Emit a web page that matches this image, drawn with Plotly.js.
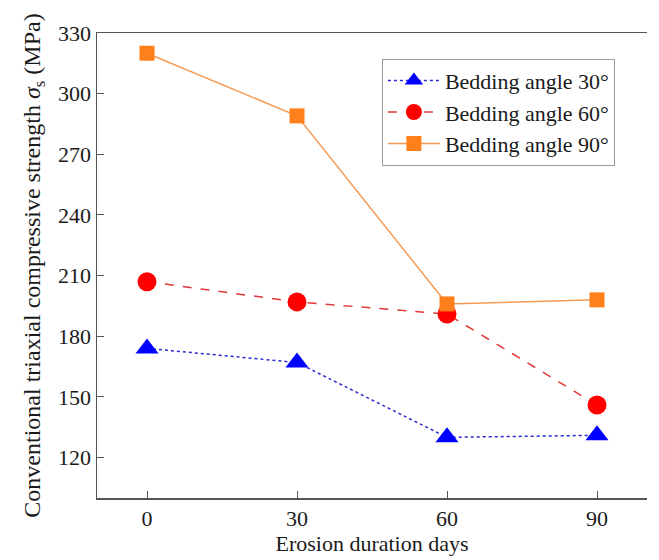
<!DOCTYPE html>
<html>
<head>
<meta charset="utf-8">
<script src="https://cdn.plot.ly/plotly-3.0.1.min.js"></script>
<style>body{margin:0;padding:0;background:#fff}#chart{width:659px;height:560px}</style>
</head>
<body>
<div id="chart"></div>
<script>
const days = [0, 30, 60, 90];
const angle30 = [174, 167, 130, 131];
const angle60 = [207, 197, 191, 146];
const angle90 = [320, 289, 196, 198];
const seriesNames = ['Bedding angle 30°', 'Bedding angle 60°', 'Bedding angle 90°'];
const yTicks = [120, 150, 180, 210, 240, 270, 300, 330];
const xTicks = [0, 30, 60, 90];

const fam = 'Liberation Serif, Times New Roman, serif';
const font = {family: fam, size: 22, color: '#1a1a1a'};

const traces = [
  {x: days, y: angle30, name: seriesNames[0], mode: 'lines+markers',
   line: {color: '#2a2ad0', width: 1.5, dash: 'dot'},
   marker: {symbol: 'triangle-up', size: 20, color: '#0000ff'}},
  {x: days, y: angle60, name: seriesNames[1], mode: 'lines+markers',
   line: {color: '#e03838', width: 1.5, dash: 'dash'},
   marker: {symbol: 'circle', size: 19, color: '#ff0000'}},
  {x: days, y: angle90, name: seriesNames[2], mode: 'lines+markers',
   line: {color: '#f59a55', width: 1.5},
   marker: {symbol: 'square', size: 15, color: '#ff7f1a'}}
];

const layout = {
  width: 659, height: 560,
  margin: {l: 97, r: 12, t: 33, b: 62},
  paper_bgcolor: '#fff', plot_bgcolor: '#fff',
  font: font,
  showlegend: true,
  legend: {x: 0.518, y: 0.945, xanchor: 'left', yanchor: 'top',
    bgcolor: '#fff', bordercolor: '#999', borderwidth: 1,
    font: font, tracegroupgap: 0, itemwidth: 52},
  xaxis: {range: [-10, 100], tickvals: xTicks, ticktext: xTicks.map(String),
    showgrid: false, zeroline: false, showline: true, mirror: true,
    linecolor: '#555', linewidth: 1.5, ticks: 'inside', ticklen: 7, tickcolor: '#555',
    tickfont: font,
    title: {text: 'Erosion duration days', font: font, standoff: 2}},
  yaxis: {range: [100, 330], tickvals: yTicks, ticktext: yTicks.map(String),
    showgrid: false, zeroline: false, showline: true, mirror: false,
    linecolor: '#555', linewidth: 1.5, ticks: 'inside', ticklen: 7, tickcolor: '#555',
    tickfont: font,
    title: {text: 'Conventional triaxial compressive strength <i>σ</i><sub>s</sub> (MPa)', font: {family: fam, size: 24, color: '#1a1a1a'}, standoff: 10}}
};

Plotly.newPlot('chart', traces, layout, {displayModeBar: false, staticPlot: true});
</script>
</body>
</html>
